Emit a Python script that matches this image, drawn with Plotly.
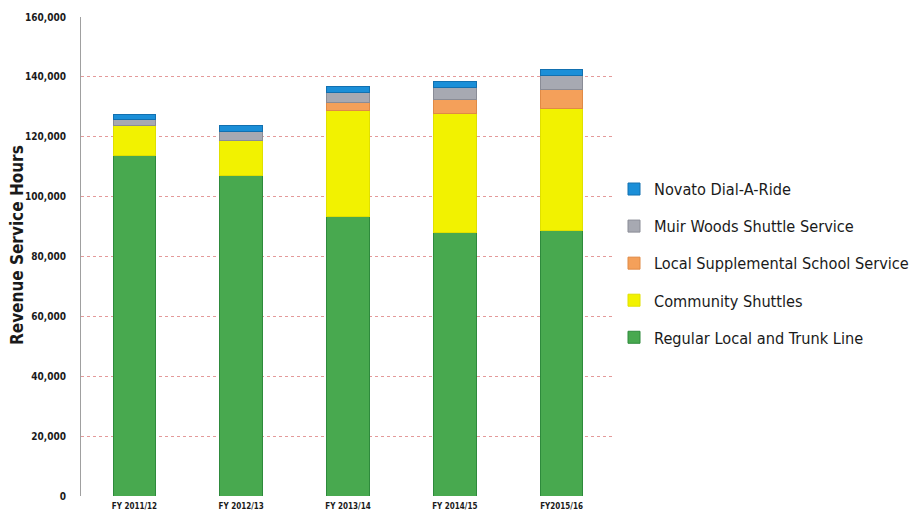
import plotly.graph_objects as go

# Revenue service hours by service type and fiscal year
years = ["FY 2011/12", "FY 2012/13", "FY 2013/14", "FY 2014/15", "FY2015/16"]
regular_local_trunk = [113900, 106900, 93200, 88000, 88700]
community_shuttles = [9700, 12000, 35700, 39900, 40600]
local_supplemental_school = [0, 0, 2400, 4700, 6600]
muir_woods_shuttle = [2000, 2700, 3600, 3700, 4400]
novato_dial_a_ride = [1700, 2000, 2000, 2000, 2000]

y_ticks = [0, 20000, 40000, 60000, 80000, 100000, 120000, 140000, 160000]
y_tick_text = ["0", "20,000", "40,000", "60,000", "80,000", "100,000", "120,000", "140,000", "160,000"]

# stacked bottom to top; legend lists top segment first
series = [
    ("Regular Local and Trunk Line", regular_local_trunk, "#48a94f", "#2e8a3c"),
    ("Community Shuttles", community_shuttles, "#f2f200", "#e0e000"),
    ("Local Supplemental School Service", local_supplemental_school, "#f4a05a", "#e08a45"),
    ("Muir Woods Shuttle Service", muir_woods_shuttle, "#a7a9b2", "#8a8c96"),
    ("Novato Dial-A-Ride", novato_dial_a_ride, "#1b8fd8", "#1270b0"),
]

FONT = "Liberation Sans Narrow, DejaVu Sans Condensed, sans-serif"

fig = go.Figure()
n = len(series)
for i, (name, vals, color, edge) in enumerate(series):
    fig.add_trace(go.Bar(
        x=years, y=vals, name=name,
        legendgroup=f"g{i}",
        legendrank=n - i,
        marker=dict(color=color, line=dict(color=edge, width=1)),
    ))

fig.update_layout(
    barmode="stack",
    bargap=0.6,
    width=914, height=516,
    margin=dict(l=81, r=299, t=17, b=20, autoexpand=False),
    plot_bgcolor="white",
    paper_bgcolor="white",
    font=dict(family=FONT, color="#1a1a1a"),
    legend=dict(
        traceorder="grouped",
        tracegroupgap=13,
        font=dict(family=FONT, size=16.2, color="#1a1a1a"),
        xref="container", yref="container",
        x=614 / 914, y=1 - 172 / 516,
        xanchor="left", yanchor="top",
        bgcolor="rgba(0,0,0,0)",
    ),
    xaxis=dict(
        showgrid=False,
        showline=False,
        ticks="",
        tickfont=dict(family=FONT, size=8, weight="bold", color="#1a1a1a"),
        ticklabelstandoff=4,
    ),
    yaxis=dict(
        range=[0, 160000],
        tickvals=y_ticks,
        ticktext=y_tick_text,
        tickfont=dict(family=FONT, size=10, weight="bold", color="#1a1a1a"),
        ticklabelstandoff=12,
        showgrid=True,
        gridcolor="#e49a9a",
        griddash="dot",
        gridwidth=1,
        zeroline=False,
        showline=True,
        linecolor="#a0a0a0",
        linewidth=1,
    ),
    annotations=[dict(
        text="Revenue Service Hours",
        xref="paper", yref="paper",
        x=-64 / 534, y=(496 - 245) / 479,
        xanchor="center", yanchor="middle",
        textangle=-90, showarrow=False,
        font=dict(family=FONT, size=17, weight="bold", color="#1a1a1a"),
    )],
)

fig.write_html("out.html")
